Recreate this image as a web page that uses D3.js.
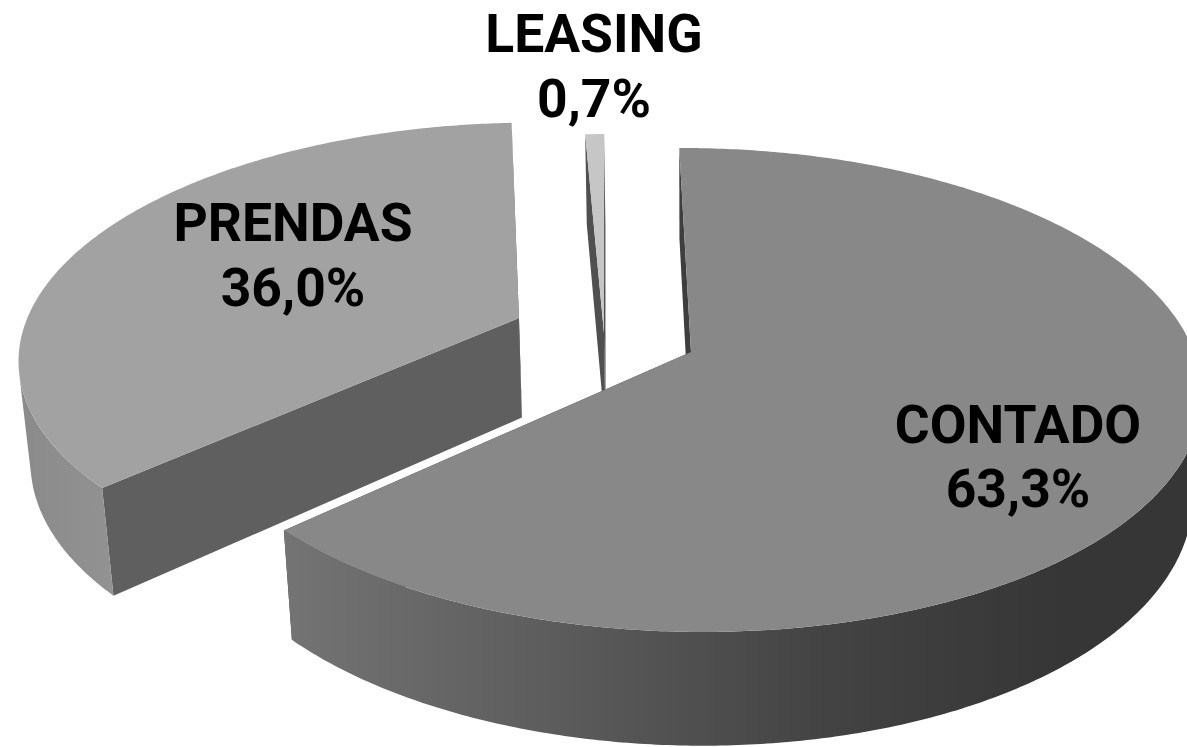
<!DOCTYPE html>
<html><head><meta charset="utf-8">
<script src="https://cdn.jsdelivr.net/npm/d3@7"></script>
<style>html,body{margin:0;padding:0;background:#fff}svg{display:block}</style>
</head><body><div id="c"></div>
<script>
const categories = ["CONTADO", "PRENDAS", "LEASING"];
const shares = [63.3, 36.0, 0.7];
const shareLabels = ["63,3%", "36,0%", "0,7%"];

const W = 1187, H = 747;
const topColors = ["#888888", "#a2a2a2", "#c6c6c6"];
const faceColors = ["#3e3e3e", "#5f5f5f", "#505050"];
const wallStops = [
  [[0, "#747474"], [0.35, "#5c5c5c"], [0.7, "#434343"], [1, "#363636"]],
  [[0, "#8a8a8a"], [1, "#929292"]],
  [[0, "#505050"], [1, "#505050"]]
];
const wallRange = [[283, 1060], [18, 112], [580, 610]];
const explode = [[0, 0], [-0.347, -0.147], [-0.1735, -0.08]];
const labelAt = [[1018, 443, 507], [293, 241, 306], [594, 52, 117]];

// perspective of the pie plane
const cam = { cx: 691, cy: 352, F: 503, G: 236, Hh: 103, k: 0.157, m: 0.018, s: 0.02 };
function project(u, v, w) {
  const D = 1 - cam.k * v + cam.m * w;
  return [cam.cx + cam.F * (u + cam.s * v) / D, cam.cy + (cam.G * v + cam.Hh * w) / D];
}
const pt = (off, a, r, w) => project(off[0] + r * Math.sin(a), off[1] - r * Math.cos(a), w);
const area = q => d3.polygonArea(q);

const startDeg = -0.4;
const pie = d3.pie().sort(null)
  .startAngle(startDeg * Math.PI / 180)
  .endAngle((startDeg + 360) * Math.PI / 180);
const arcs = pie(shares);

const svg = d3.select("#c").append("svg").attr("width", W).attr("height", H)
  .attr("viewBox", `0 0 ${W} ${H}`);
const defs = svg.append("defs");
const line = d3.line();

wallStops.forEach((stops, i) => {
  const g = defs.append("linearGradient").attr("id", "wall" + i)
    .attr("gradientUnits", "userSpaceOnUse")
    .attr("x1", wallRange[i][0]).attr("x2", wallRange[i][1]).attr("y1", 0).attr("y2", 0);
  stops.forEach(s => g.append("stop").attr("offset", s[0]).attr("stop-color", s[1]));
});

const drawOrder = [1, 2, 0];
drawOrder.forEach(i => {
  const d = arcs[i], off = explode[i];
  const n = Math.max(2, Math.ceil((d.endAngle - d.startAngle) / 0.01));
  const angles = d3.range(n + 1).map(j => d.startAngle + (d.endAngle - d.startAngle) * j / n);
  const g = svg.append("g").attr("class", "slice");
  [d.endAngle, d.startAngle].forEach(a => {
    g.append("path").attr("fill", faceColors[i]).attr("d", line([
      pt(off, a, 0, 0), pt(off, a, 1, 0), pt(off, a, 1, 1), pt(off, a, 0, 1)
    ]) + "Z");
  });
  // outer wall: union of the small quads that face the viewer
  let wallPath = "";
  d3.pairs(angles).forEach(([a, b]) => {
    const q = [pt(off, a, 1, 0), pt(off, b, 1, 0), pt(off, b, 1, 1), pt(off, a, 1, 1)];
    if (area(q) > 0) wallPath += line(q) + "Z";
  });
  if (wallPath) g.append("path").attr("fill", `url(#wall${i})`).attr("d", wallPath);
  const top = [pt(off, 0, 0, 0)].concat(angles.map(a => pt(off, a, 1, 0)));
  g.append("path").attr("fill", topColors[i]).attr("d", line(top) + "Z");
});

const text = svg.append("g").attr("font-family", "Roboto").attr("font-weight", 700)
  .attr("font-size", 53.4).attr("text-anchor", "middle").attr("fill", "#000");
categories.forEach((c, i) => {
  text.append("text").attr("x", labelAt[i][0]).attr("y", labelAt[i][1]).text(c);
  text.append("text").attr("x", labelAt[i][0]).attr("y", labelAt[i][2]).text(shareLabels[i]);
});
</script></body></html>
